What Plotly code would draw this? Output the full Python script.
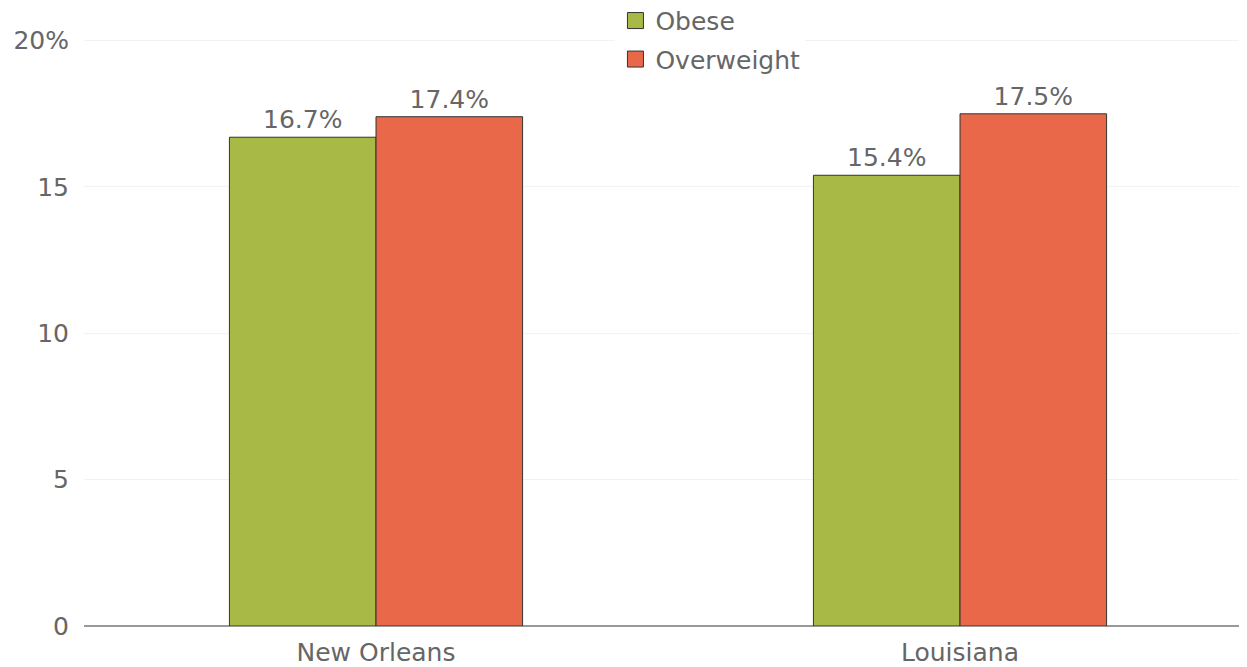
import plotly.graph_objects as go

categories = ["New Orleans", "Louisiana"]
obese = [16.7, 15.4]
overweight = [17.4, 17.5]
tick_vals = [0, 5, 10, 15, 20]
tick_text = ["0", "5", "10", "15", "20%"]
series_names = ["Obese", "Overweight"]
series_colors = ["#A8B946", "#E9684A"]

font_family = "DejaVu Sans, Verdana, sans-serif"
FS = 25

fig = go.Figure()
for name, vals, color in zip(series_names, [obese, overweight], series_colors):
    fig.add_trace(go.Bar(
        name=name, x=categories, y=vals, legendgroup=name, showlegend=False,
        marker=dict(color=color, line=dict(color="#333333", width=1)),
        text=[f"{v}%" for v in vals], textposition="outside",
        textfont=dict(color="#666666", size=FS, family=font_family),
        cliponaxis=False,
    ))
for name, color in zip(series_names, series_colors):
    fig.add_trace(go.Scatter(
        name=name, x=[None], y=[None], mode="markers", legendgroup=name,
        marker=dict(symbol="square", size=18, color=color,
                    line=dict(color="#333333", width=1)),
        showlegend=True, hoverinfo="skip",
    ))

fig.update_layout(
    width=1244, height=659,
    margin=dict(l=76, r=0, t=18, b=41, autoexpand=False),
    paper_bgcolor="white", plot_bgcolor="white",
    barmode="group", bargap=0.498, bargroupgap=0,
    font=dict(family=font_family, color="#666666", size=FS),
    showlegend=True,
    legend=dict(
        x=0.455, xanchor="left", y=1.047, yanchor="top",
        bgcolor="white", font=dict(size=FS, color="#666666"),
        orientation="v", tracegroupgap=3, itemsizing="trace",
    ),
    xaxis=dict(
        showgrid=False, showline=False, ticks="", automargin=False,
        ticklabelstandoff=9,
        tickfont=dict(size=FS, color="#666666"),
    ),
    yaxis=dict(
        range=[0, 20.5], tickvals=tick_vals, ticktext=tick_text,
        showgrid=True, gridcolor="#f2f2f2", gridwidth=1,
        zeroline=True, zerolinecolor="#999999", zerolinewidth=2,
        showline=False, ticks="", ticklabelstandoff=14, automargin=False,
        tickfont=dict(size=FS, color="#666666"),
    ),
)

fig.write_html("out.html")
